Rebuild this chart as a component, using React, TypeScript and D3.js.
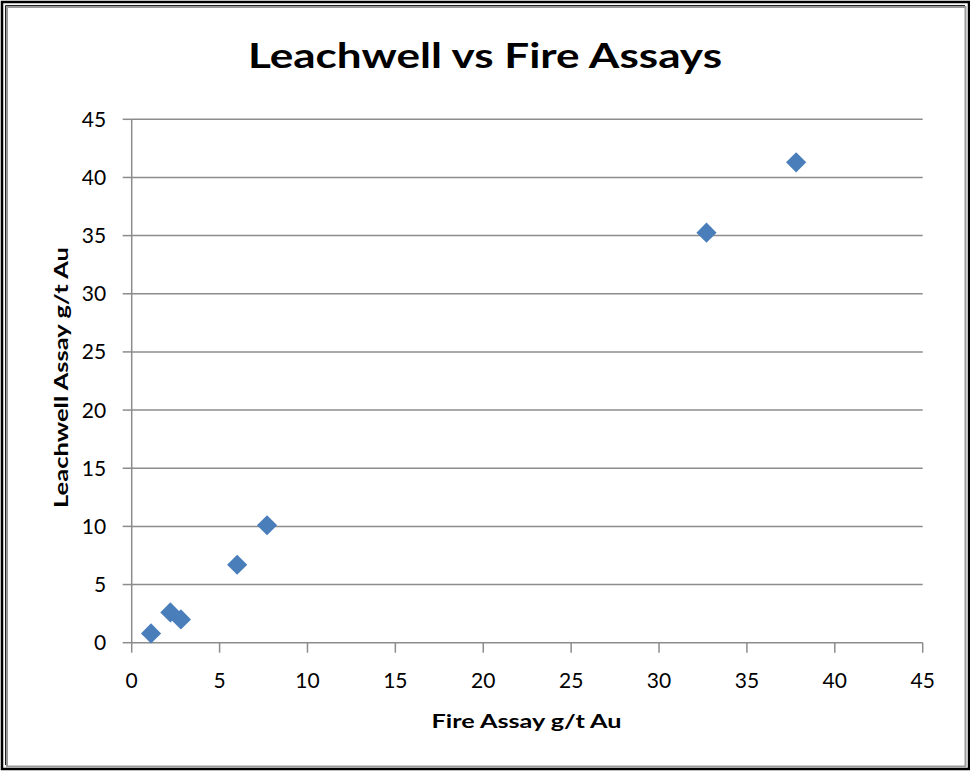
import React from 'react';
import * as d3 from 'd3';

// readings
const fireAssay = [1.1, 2.2, 2.8, 6.0, 7.7, 32.7, 37.8];
const leachwell = [0.8, 2.6, 2.0, 6.7, 10.1, 35.25, 41.3];
const xTicks = [0, 5, 10, 15, 20, 25, 30, 35, 40, 45];
const yTicks = [0, 5, 10, 15, 20, 25, 30, 35, 40, 45];

const title = 'Leachwell vs Fire Assays';
const xTitle = 'Fire Assay g/t Au';
const yTitle = 'Leachwell Assay g/t Au';

const App = () => {
  const width = 970;
  const height = 771;
  const margin = { top: 119.3, right: 47.3, bottom: 128.3, left: 131.7 };
  const w = width - margin.left - margin.right;
  const h = height - margin.top - margin.bottom;

  const font = 'Lato, Calibri, sans-serif';
  const gridColor = '#8c8c8c';
  const markerFill = '#4a7ebb';

  const x = d3.scaleLinear().domain([0, 45]).range([0, w]);
  const y = d3.scaleLinear().domain([0, 45]).range([h, 0]);

  const diamond = d3.symbol().type(d3.symbolDiamond2).size(260)();

  const points = fireAssay.map((fx, i) => ({ fx, lw: leachwell[i] }));

  const grid = yTicks.filter(t => t > 0).map(t => (
    <line key={'g' + t} x1={0} x2={w} y1={y(t)} y2={y(t)}
          stroke={gridColor} strokeWidth={1.5} />
  ));

  const yAxis = yTicks.map(t => (
    <g key={'y' + t} transform={'translate(0,' + y(t) + ')'}>
      <line x1={-9} x2={0} stroke={gridColor} strokeWidth={1.5} />
      <text x={-25.5} y={7.5} textAnchor="end" fontSize={21}
            fontFamily={font} fill="#000">{t}</text>
    </g>
  ));

  const xAxis = xTicks.map(t => (
    <g key={'x' + t} transform={'translate(' + x(t) + ',' + h + ')'}>
      <line y1={0} y2={10} stroke={gridColor} strokeWidth={1.5} />
      <text y={45.3} textAnchor="middle" fontSize={21}
            fontFamily={font} fill="#000">{t}</text>
    </g>
  ));

  const marks = points.map((d, i) => (
    <path key={i} d={diamond || ''} fill={markerFill}
          transform={'translate(' + x(d.fx) + ',' + y(d.lw) + ')'} />
  ));

  return (
    <svg width={width} height={height}
         style={{ position: 'absolute', left: 0, top: 0, background: '#fff' }}>
      <rect x={0} y={0} width={width} height={height} fill="#fff" />

      {/* frame */}
      <rect x={2} y={2} width={967} height={767} fill="none" stroke="#000" strokeWidth={2.5} />
      <path d="M5.5,765 V5.5 H965" fill="none" stroke="#222" strokeWidth={1} />
      <rect x={7} y={7} width={958.5} height={759.5} fill="none" stroke="#9a9a9a" strokeWidth={2} />

      <text x={485} y={68} textAnchor="middle" fontSize={35} fontWeight="bold"
            fontFamily={font} textLength={474} lengthAdjust="spacingAndGlyphs">{title}</text>

      <g transform={'translate(' + margin.left + ',' + margin.top + ')'}>
        {grid}
        <line x1={0} x2={w} y1={h} y2={h} stroke={gridColor} strokeWidth={1.5} />
        <line x1={0} x2={0} y1={0} y2={h} stroke={gridColor} strokeWidth={1.5} />
        {yAxis}
        {xAxis}
        {marks}
      </g>

      <text x={526.5} y={727.5} textAnchor="middle" fontSize={18.5} fontWeight="bold"
            fontFamily={font} textLength={190} lengthAdjust="spacingAndGlyphs">{xTitle}</text>
      <text transform="translate(68,377.5) rotate(-90)" textAnchor="middle" fontSize={18.5}
            fontWeight="bold" fontFamily={font} textLength={261}
            lengthAdjust="spacingAndGlyphs">{yTitle}</text>
    </svg>
  );
};

export default App;
